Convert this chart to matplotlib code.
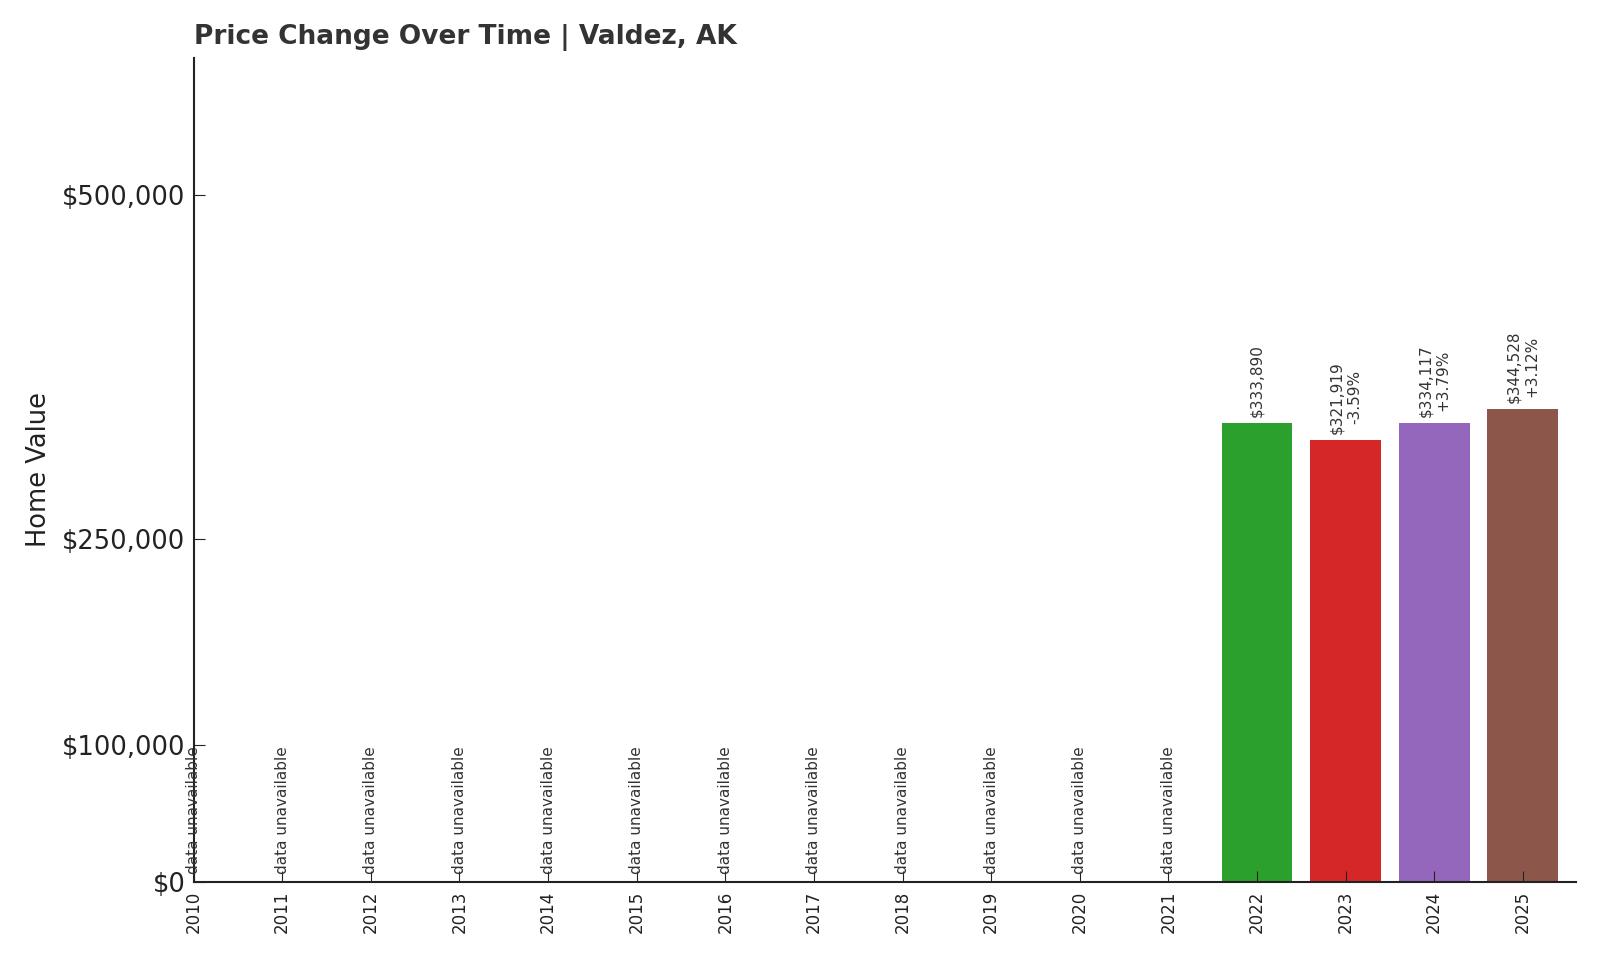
import numpy as np
import matplotlib
matplotlib.use("Agg")
import matplotlib.pyplot as plt
from matplotlib.ticker import FuncFormatter

# Datos
years = [str(y) for y in range(2010, 2026)]
values = [None] * 12 + [333890, 321919, 334117, 344528]
changes = [None] * 13 + [-3.59, 3.79, 3.12]

colors = plt.cm.tab10.colors
x = np.arange(len(years))

fig = plt.figure(figsize=(16, 9.6), dpi=100)
ax = fig.add_axes([0.121, 0.081, 0.864, 0.859])

for i, v in enumerate(values):
    if v is None:
        ax.text(x[i], 6000, "data unavailable", rotation=90, ha="center", va="bottom",
                fontsize=11, color="#333333")
        continue
    ax.bar(x[i], v, width=0.8, color=colors[i % 10])
    label = f"${v:,.0f}"
    if changes[i] is not None:
        label += f"\n{changes[i]:+.2f}%"
    ax.text(x[i], v + 4500, label, rotation=90, ha="center", va="bottom",
            fontsize=11, color="#333333", multialignment="center")

ax.set_xlim(0, 15.6)
ax.set_ylim(0, 600000)
ax.set_xticks(x)
ax.set_xticklabels(years, rotation=90, fontsize=12)
ax.set_yticks([0, 100000, 250000, 500000])
ax.yaxis.set_major_formatter(FuncFormatter(lambda v, p: f"${v:,.0f}"))
ax.tick_params(axis="y", labelsize=18.5, direction="in", length=8, pad=6, colors="#222222")
ax.tick_params(axis="x", direction="in", length=8, pad=6, colors="#222222")

ax.spines["top"].set_visible(False)
ax.spines["right"].set_visible(False)
ax.spines["left"].set_linewidth(1.5)
ax.spines["bottom"].set_linewidth(1.5)
ax.spines["left"].set_color("#222222")
ax.spines["bottom"].set_color("#222222")

ax.set_ylabel("Home Value", fontsize=18.5, color="#222222", labelpad=7)
ax.set_title("Price Change Over Time | Valdez, AK", loc="left", fontsize=19,
             fontweight="bold", color="#333333", pad=10)

fig.savefig("out.png", dpi=100)
